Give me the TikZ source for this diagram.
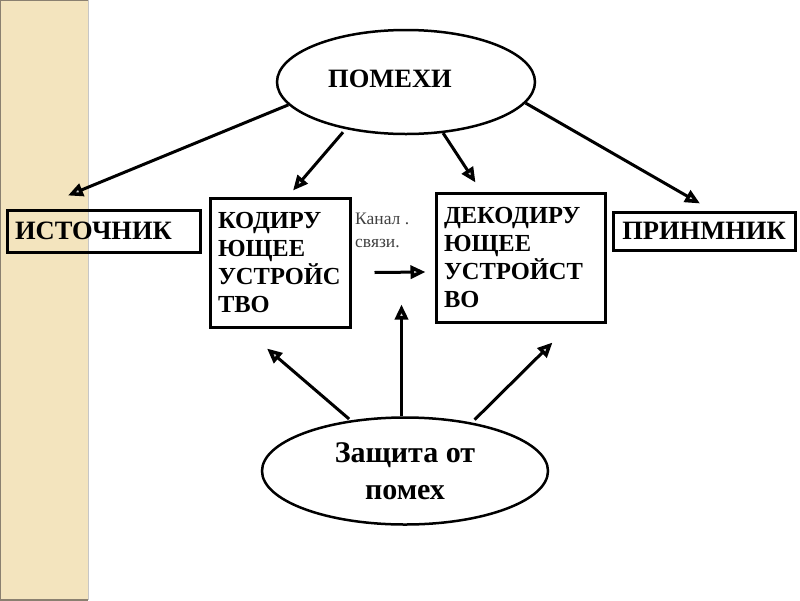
\documentclass[tikz,border=0pt]{standalone}
\usepackage{fontspec}
\setmainfont{Liberation Serif}
\usetikzlibrary{arrows.meta,shapes.geometric,calc}
\definecolor{barfill}{HTML}{F3E4BE}
\definecolor{baredge}{HTML}{8A8070}
\definecolor{chantext}{HTML}{404040}
\begin{document}
\begin{tikzpicture}[x=1pt,y=-1pt,
  box/.style={draw, line width=3pt, inner ysep=0pt, inner xsep=8pt, align=left,
    font=\bfseries\fontsize{24.5}{28}\selectfont},
  onebox/.style={draw, line width=3pt, inner sep=0pt,
    font=\bfseries\fontsize{26.5}{30}\selectfont},
  oval/.style={draw, ellipse, line width=2.5pt, inner sep=0pt, align=center,
    font=\bfseries\fontsize{26.5}{37}\selectfont},
  arr/.style={line width=3pt,
    -{Triangle[length=15pt,width=13pt,line width=3.5pt,fill=gray!35]}}
]
\useasboundingbox (0,0) rectangle (800,600);
% side bar
\fill[barfill] (0,0) rectangle (88,600);
\draw[baredge, line width=1.5pt] (0,600) -- (0,0) -- (88,0);
\draw[baredge, line width=1.5pt] (0,600) -- (88,600);
\draw[gray!45, line width=1pt] (88.5,0) -- (88.5,600);

% nodes
\node[oval, minimum width=258pt, minimum height=104pt] (pom) at (406,82)
  {\raisebox{7pt}{\hspace*{-32pt}ПОМЕХИ}};
\node[onebox, align=left, text width=177pt, minimum height=42pt, inner xsep=8pt]
  (src) at (103.5,231) {ИСТОЧНИК};
\node[box, text width=124pt, minimum height=129pt] (enc) at (280,262.5)
  {КОДИРУ\\ЮЩЕЕ\\УСТРОЙС\\ТВО};
\node[box, text width=153pt, minimum height=129pt] (dec) at (520.5,257.5)
  {ДЕКОДИРУ\\ЮЩЕЕ\\УСТРОЙСТ\\ВО};
\node[onebox, minimum width=182pt, minimum height=38pt] (rcv) at (704,231) {ПРИНМНИК};
\node[oval, minimum width=286pt, minimum height=107pt,
  font=\bfseries\fontsize{30}{37}\selectfont] (prot) at (405,471)
  {\raisebox{-3pt}{Защита от}\\\raisebox{-3pt}{помех}};
\node[anchor=west, align=left, inner sep=0pt, text=chantext,
  font=\fontsize{17.5}{23}\selectfont] (chan) at (355,230) {Канал .\\связи.};

\coordinate (chanpt) at ($(enc.south east)+(50,-24)$);

% connectors from ПОМЕХИ
\draw[arr] (pom.191) -- ($(src.north)+(-35.5,-13)$);
\draw[arr, shorten <=4pt] (pom.218) -- ($(enc.north)+(13,-6)$);
\draw[arr] (pom.306) -- ($(dec.north)+(-45,-9)$);
\draw[arr] (pom.350) -- ($(rcv.north)+(-4,-7)$);

% channel
\draw[arr] ($(enc.east)+(23,10)$) -- ($(dec.west)+(-9,14.5)$);

% connectors from Защита
\draw[arr, shorten <=2pt] (prot.137) -- ($(enc.south)+(-13,20)$);
\draw[arr] (chanpt |- prot.north) -- (chanpt);
\draw[arr, shorten <=4pt] (prot.36) -- ($(dec.south)+(32,19)$);
\end{tikzpicture}
\end{document}
